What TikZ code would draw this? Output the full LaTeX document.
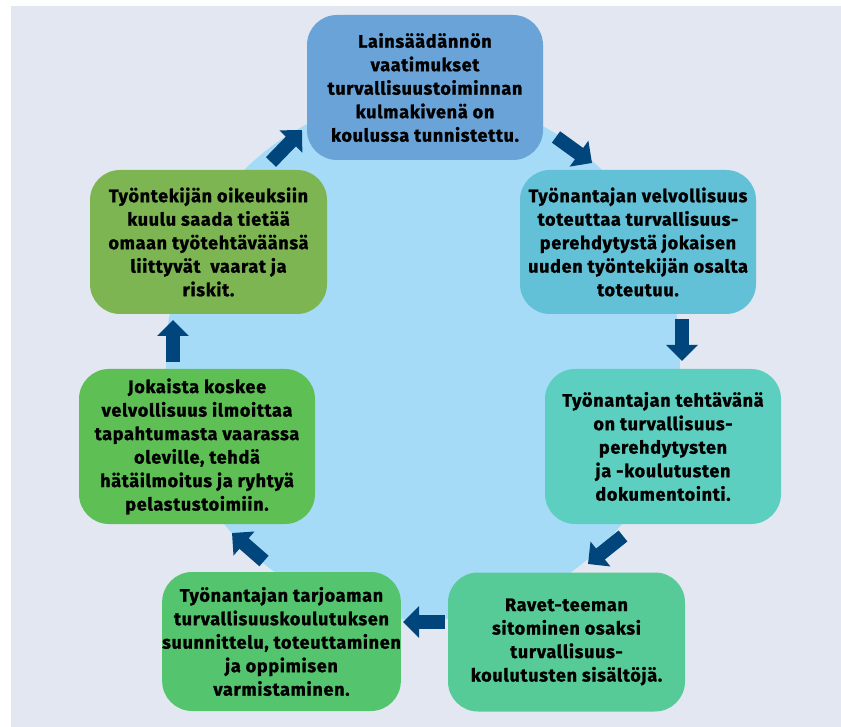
\documentclass[tikz,border=0pt]{standalone}
\usepackage{fontspec}
\setmainfont{Fira Sans}[BoldFeatures={FakeBold=1.3,LetterSpace=4}]
\usetikzlibrary{arrows.meta}
\definecolor{panel}{HTML}{E3E7F1}
\definecolor{circ}{HTML}{A6DBF7}
\definecolor{arrc}{HTML}{00457C}
\definecolor{cTop}{HTML}{69A3D8}
\definecolor{cRa}{HTML}{62C1D6}
\definecolor{cRb}{HTML}{5DCFC0}
\definecolor{cBr}{HTML}{57CB97}
\definecolor{cBl}{HTML}{55C46E}
\definecolor{cLb}{HTML}{5EBF55}
\definecolor{cLa}{HTML}{7DB553}
\tikzset{
  box/.style={rounded corners=30pt, align=center, inner sep=0pt,
    font=\bfseries\fontsize{18}{23.5}\selectfont, text=black},
  blk/.style={draw=arrc, line width=14pt,
    -{Triangle[width=31pt,length=16pt]}}
}
\begin{document}
\begin{tikzpicture}[x=1pt,y=-1pt]
\useasboundingbox (0,0) rectangle (841,727);
\fill[white] (0,0) rectangle (841,727);
\fill[panel] (11,6) rectangle (841,727);
\fill[circ] (423,358) ellipse [x radius=257, y radius=262];

\node[box, fill=cTop, minimum width=236pt, minimum height=145pt] (top) at (425,87.5)
  {Lainsäädännön\\vaatimukset\\turvallisuustoiminnan\\kulmakivenä on\\koulussa tunnistettu.};
\node[box, fill=cRa, minimum width=236pt, minimum height=144pt] (ra) at (638,242)
  {Työnantajan velvollisuus\\toteuttaa turvallisuus-\\perehdytystä jokaisen\\uuden työntekijän osalta\\toteutuu.};
\node[box, fill=cRb, minimum width=236pt, minimum height=155pt] (rb) at (663,446.5)
  {Työnantajan tehtävänä\\on turvallisuus-\\perehdytysten\\ja -koulutusten\\dokumentointi.};
\node[box, fill=cBr, minimum width=237pt, minimum height=139pt] (br) at (566.5,642)
  {Ravet-teeman\\sitominen osaksi\\turvallisuus-\\koulutusten sisältöjä.};
\node[box, fill=cBl, minimum width=237pt, minimum height=139pt] (bl) at (281.5,641.5)
  {Työnantajan tarjoaman\\turvallisuuskoulutuksen\\suunnittelu, toteuttaminen\\ja oppimisen\\varmistaminen.};
\node[box, fill=cLb, minimum width=236pt, minimum height=155pt] (lb) at (197,446.5)
  {Jokaista koskee\\velvollisuus ilmoittaa\\tapahtumasta vaarassa\\oleville, tehdä\\hätäilmoitus ja ryhtyä\\pelastustoimiin.};
\node[box, fill=cLa, minimum width=237pt, minimum height=144pt] (la) at (208.5,242)
  {Työntekijän oikeuksiin\\kuulu saada tietää\\omaan työtehtäväänsä\\liittyvät\ \ vaarat ja\\riskit.};

\coordinate (a1s) at (556,137); \coordinate (a1e) at (592,163);
\coordinate (a2s) at (682,319); \coordinate (a2e) at (682,361);
\coordinate (a3s) at (623,536); \coordinate (a3e) at (588,564);
\coordinate (a4s) at (445,622); \coordinate (a4e) at (403,622);
\coordinate (a5s) at (264,561); \coordinate (a5e) at (232,533);
\coordinate (a6s) at (173,362); \coordinate (a6e) at (173,320);
\coordinate (a7s) at (271,162); \coordinate (a7e) at (302,130);
\draw[blk] (a1s) -- (a1e);
\draw[blk] (a2s) -- (a2e);
\draw[blk] (a3s) -- (a3e);
\draw[blk] (a4s) -- (a4e);
\draw[blk] (a5s) -- (a5e);
\draw[blk] (a6s) -- (a6e);
\draw[blk] (a7s) -- (a7e);
\end{tikzpicture}
\end{document}
